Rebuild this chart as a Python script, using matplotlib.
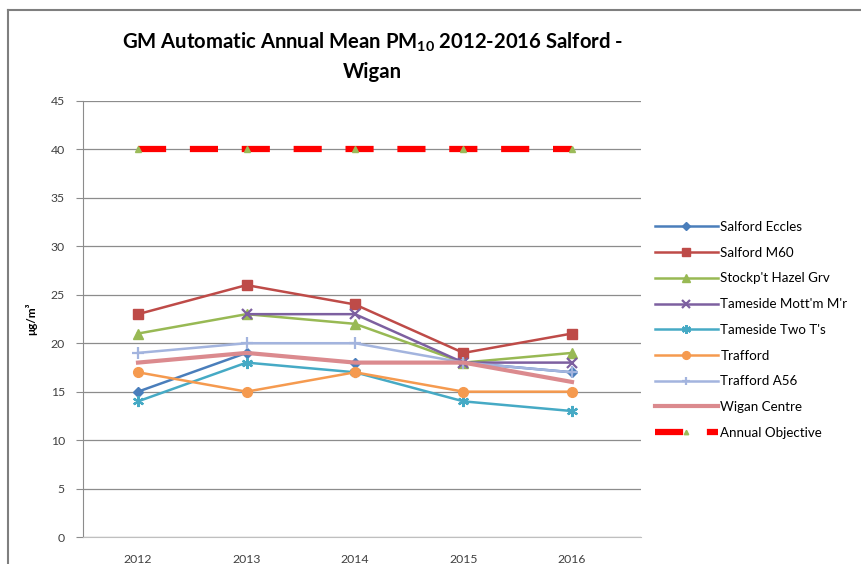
import numpy as np
import matplotlib
matplotlib.use("Agg")
import matplotlib.pyplot as plt
from matplotlib.lines import Line2D

plt.rcParams['font.family'] = ['Lato', 'DejaVu Sans']
plt.rcParams['mathtext.fontset'] = 'custom'
plt.rcParams['mathtext.rm'] = 'Lato'
plt.rcParams['mathtext.bf'] = 'Lato:bold'

# data
years = ['2012', '2013', '2014', '2015', '2016']
salford_eccles = [15, 19, 18, 18, 17]
salford_m60 = [23, 26, 24, 19, 21]
stockport_hazel = [21, 23, 22, 18, 19]
tameside_mottram = [np.nan, 23, 23, 18, 18]
tameside_two_ts = [14, 18, 17, 14, 13]
trafford = [17, 15, 17, 15, 15]
trafford_a56 = [19, 20, 20, 18, 17]
wigan_centre = [18, 19, 18, 18, 16]
annual_objective = [40, 40, 40, 40, 40]

series = [
    ("Salford Eccles", salford_eccles, '#4A7EBB', 'D', 5),
    ("Salford M60", salford_m60, '#BE4B48', 's', 6.5),
    ("Stockp't Hazel Grv", stockport_hazel, '#98B954', '^', 7),
    ("Tameside Mott'm M'r", tameside_mottram, '#7D60A0', 'x', 6.5),
    ("Tameside Two T's", tameside_two_ts, '#46AAC5', (6, 2, 0), 8),
    ("Trafford", trafford, '#F59A4F', 'o', 7),
    ("Trafford A56", trafford_a56, '#A3B4DE', '+', 8),
    ("Wigan Centre", wigan_centre, '#DB8A8E', None, 0),
]

fig = plt.figure(figsize=(8.62, 5.64), dpi=100)
ax = fig.add_axes([83 / 862, 1 - 537 / 564, (641 - 83) / 862, (537 - 101) / 564])

x = np.arange(len(years))
handles = []
for name, vals, col, mk, ms in series:
    lw = 3.0 if mk is None else 1.8
    ln, = ax.plot(x, vals, color=col, lw=lw, marker=mk, markersize=ms,
                  markeredgewidth=1.6 if mk in ('x', '+') or isinstance(mk, tuple) else 1.0,
                  markeredgecolor=col, markerfacecolor=col, label=name, zorder=3)
    handles.append(ln)

obj, = ax.plot(x, annual_objective, color='#FF0000', lw=4.5, dashes=(4.5, 3.8),
               marker='^', markersize=4, markerfacecolor='#9BBB59',
               markeredgecolor='#9BBB59', label='Annual Objective', zorder=4)
handles.append(obj)

ax.set_xlim(-0.507, 4.636)
ax.set_ylim(0, 45)
ax.set_yticks(range(0, 46, 5))
ax.set_xticks(x)
ax.set_xticklabels(years)
ax.grid(axis='y', color='#8C8C8C', lw=0.9)
ax.set_axisbelow(True)
for s in ['top', 'right']:
    ax.spines[s].set_visible(False)
ax.spines['left'].set_color('#8C8C8C')
ax.spines['bottom'].set_color('#BFBFBF')
ax.tick_params(axis='y', length=5, color='#8C8C8C', labelsize=8.8,
               labelcolor='#404040', pad=8)
ax.tick_params(axis='x', length=0, labelsize=8.8, labelcolor='#404040', pad=12)
ax.set_ylabel('μg/m³', fontsize=8.5, fontweight='bold', labelpad=10)

fig.text(372 / 862, 1 - 42 / 564,
         r"GM Automatic Annual Mean PM$_{\mathbf{10}}$ 2012-2016 Salford -",
         ha='center', va='center', fontsize=14.6, fontweight='bold')
fig.text(372 / 862, 1 - 72 / 564, "Wigan", ha='center', va='center',
         fontsize=14.6, fontweight='bold')

fig.legend(handles=handles, loc='upper left',
           bbox_to_anchor=(655 / 862, 1 - 221 / 564), frameon=False,
           fontsize=9.6, labelspacing=1.03, handlelength=4.7, markerscale=0.8,
           handletextpad=0.2, borderaxespad=0, borderpad=0)

# outer chart frame
fig.add_artist(Line2D([8 / 862, 1], [1 - 10 / 564, 1 - 10 / 564],
                      transform=fig.transFigure, color='#7F7F7F', lw=1.5))
fig.add_artist(Line2D([8 / 862, 8 / 862], [0, 1 - 10 / 564],
                      transform=fig.transFigure, color='#7F7F7F', lw=1.5))

fig.savefig('out.png', dpi=100)
